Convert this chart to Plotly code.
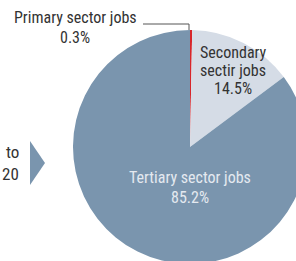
import plotly.graph_objects as go

labels = ["Primary sector jobs", "Secondary sectir jobs", "Tertiary sector jobs"]
label_lines = [["Primary sector jobs"], ["Secondary", "sectir jobs"], ["Tertiary sector jobs"]]
values = [0.3, 14.5, 85.2]
colors = ["#d7262b", "#d5dce6", "#7a95ae"]
side_text = ["to", "20"]

W, H = 310, 265
FONT = "Liberation Sans Narrow, Roboto Condensed, Arial Narrow, sans-serif"

def px_x(x):
    return x / W

def px_y(y):
    return (H - y) / H

fig = go.Figure(go.Pie(
    labels=labels,
    values=values,
    sort=False,
    direction="clockwise",
    rotation=0,
    marker=dict(colors=colors, line=dict(width=0)),
    textinfo="none",
    hoverinfo="label+percent",
    showlegend=False,
    domain=dict(x=[px_x(73), px_x(307)], y=[px_y(264), px_y(30)]),
))

def pct(v):
    return f"{v:.1f}%"

# label line layout: (x centre, list of y centres, text colour)
label_pos = [
    (75, [18, 38.5], "#333333"),
    (233, [53.5, 71, 88.5], "#333333"),
    (190, [177.5, 198], "#e4e9f0"),
]

annotations = []
for i, (cx, ys, col) in enumerate(label_pos):
    lines = label_lines[i] + [pct(values[i])]
    for line, yy in zip(lines, ys):
        annotations.append(dict(text=line, x=px_x(cx), y=px_y(yy - 0.5), xanchor="center",
                                font=dict(color=col, size=16)))
for line, yy in zip(side_text, [152, 174]):
    annotations.append(dict(text=line, x=px_x(21), y=px_y(yy - 0.5), xanchor="right",
                            font=dict(color="#333333", size=17)))
for a in annotations:
    a.update(xref="paper", yref="paper", yanchor="middle", showarrow=False)

shapes = [
    dict(type="path", xref="paper", yref="paper",
         path=f"M {px_x(143)},{px_y(24)} L {px_x(189)},{px_y(24)} L {px_x(189)},{px_y(30)}",
         line=dict(color="#555555", width=1)),
    dict(type="path", xref="paper", yref="paper",
         path=f"M {px_x(30)},{px_y(141)} L {px_x(45)},{px_y(163)} L {px_x(30)},{px_y(185)} Z",
         fillcolor="#7a95ae", line=dict(width=0)),
]

fig.update_layout(
    width=W, height=H,
    margin=dict(l=0, r=0, t=0, b=0),
    paper_bgcolor="white",
    plot_bgcolor="white",
    font=dict(family=FONT, size=16, color="#333333"),
    annotations=annotations,
    shapes=shapes,
)

fig.write_html("out.html", config={"displayModeBar": False},
               post_script="document.body.style.margin='0';document.body.style.overflow='hidden';")
